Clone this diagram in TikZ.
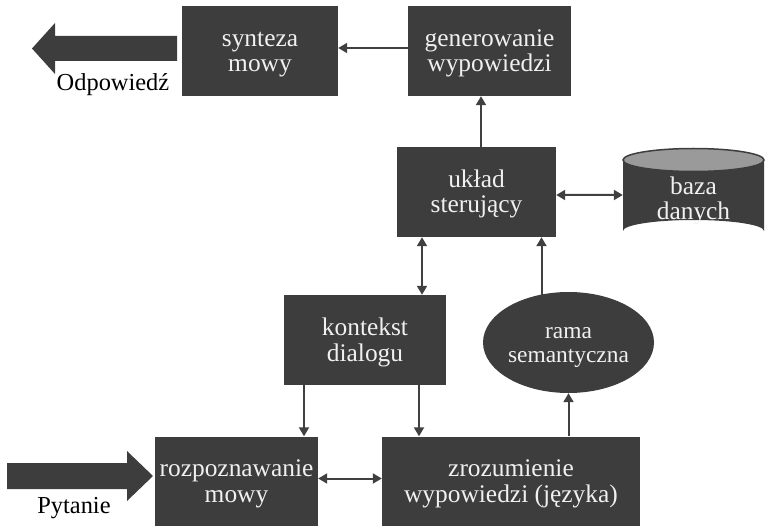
\documentclass[tikz,border=0pt]{standalone}
\usepackage{fontspec}
\setmainfont{Liberation Serif}
\usetikzlibrary{arrows.meta,shapes.geometric}

\definecolor{boxgray}{HTML}{3D3D3D}
\definecolor{lidgray}{HTML}{9A9A9A}
\definecolor{linegray}{HTML}{404040}
\definecolor{boxtext}{HTML}{F0F0F0}

% struts give every two-line label the same vertical extent
\newcommand{\labelstrut}[2]{\rule[-#2]{0pt}{\dimexpr#1+#2\relax}}

\tikzset{
  block/.style={rectangle, fill=boxgray, text=boxtext, align=center,
    minimum height=90bp, inner sep=0pt,
    font=\fontsize{25.5}{26}\selectfont,
    execute at begin node={\labelstrut{48bp}{6bp}}},
  oval/.style={ellipse, fill=boxgray, text=boxtext, align=center,
    inner sep=0pt, font=\fontsize{23.5}{24}\selectfont,
    execute at begin node={\labelstrut{45bp}{6bp}}},
  conn/.style={draw=linegray, line width=2bp,
    -{Triangle[length=9bp,width=10bp]}},
  dblconn/.style={draw=linegray, line width=2bp,
    {Triangle[length=9bp,width=10bp]}-{Triangle[length=9bp,width=10bp]}},
  bigarrow/.style={fill=boxgray, draw=none},
  caption/.style={font=\fontsize{24.5}{26}\selectfont, text=black, anchor=base, inner sep=0pt}
}

\begin{document}
\begin{tikzpicture}[x=1bp, y=-1bp]
  \useasboundingbox (0,0) rectangle (765,526);

  % processing blocks
  \node[block, minimum width=156bp] (synt) at (260,51) {synteza\\mowy};
  \node[block, minimum width=163bp] (gen)  at (489.5,51) {generowanie\\wypowiedzi};
  \node[block, minimum width=159bp] (uk)   at (476.5,192) {układ\\sterujący};
  \node[block, minimum width=162bp] (kont) at (365,340) {kontekst\\dialogu};
  \node[block, minimum width=163bp] (rozp) at (236.5,481.5) {rozpoznawanie\\mowy};
  \node[block, minimum width=258bp] (zroz) at (511,481.5) {zrozumienie\\wypowiedzi (języka)};
  \node[oval, minimum width=167bp, minimum height=101bp] (rama) at (568.5,342.5) {rama\\semantyczna};

  % database cylinder
  \fill[boxgray] (623,160) -- (623,231) arc[start angle=180, end angle=360, x radius=70.5, y radius=11]
    -- (764,160) -- cycle;
  \fill[lidgray, draw=boxgray, line width=1.5bp] (693.5,160) ellipse[x radius=70.5, y radius=11.5];
  \node[block, fill=none, minimum width=141bp, minimum height=70bp] (baza) at (693.5,199) {baza\\danych};

  % input and output arrows
  \fill[bigarrow] (177,36) -- (55,36) -- (55,23) -- (32,48.5) -- (55,74) -- (55,61) -- (177,61) -- cycle;
  \node[caption] (odp) at (113,91) {Odpowiedź};
  \fill[bigarrow] (7,463) -- (127,463) -- (127,451) -- (153,476) -- (127,501) -- (127,489) -- (7,489) -- cycle;
  \node[caption] (pyt) at (74,513) {Pytanie};

  % connectors
  \draw[conn] ([yshift=3bp]gen.west) -- ([yshift=3bp]synt.east);
  \draw[conn] ([xshift=4.5bp]uk.north) -- ([xshift=4.5bp]uk.north |- gen.south);
  \draw[dblconn] ([yshift=-3bp]uk.east) -- ([yshift=4bp]baza.west);
  \draw[dblconn] ([xshift=57bp]kont.north) -- ([xshift=57bp]kont.north |- uk.south);
  \draw[conn] ([xshift=-27bp,yshift=-4bp]rama.north) -- ([xshift=-27bp]rama.north |- uk.south);
  \draw[conn] ([xshift=-61bp]kont.south) -- ([xshift=-61bp]kont.south |- rozp.north);
  \draw[conn] ([xshift=54bp]kont.south) -- ([xshift=54bp]kont.south |- zroz.north);
  \draw[conn] (rama.south |- zroz.north) -- (rama.south);
  \draw[dblconn] ([yshift=3bp]rozp.east) -- ([yshift=3bp]zroz.west);
\end{tikzpicture}
\end{document}
